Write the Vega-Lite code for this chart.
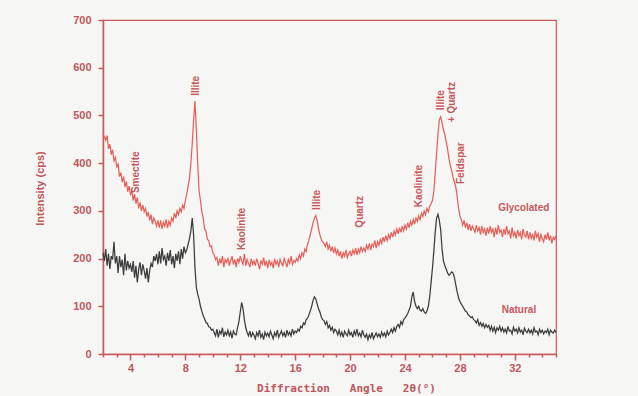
{
  "$schema": "https://vega.github.io/schema/vega-lite/v6.json",
  "width": 453,
  "height": 334,
  "autosize": {"type": "none"},
  "padding": {"left": 103, "top": 20, "right": 82, "bottom": 42},
  "background": "#f6f6f4",
  "view": {"stroke": "#c85a5e", "strokeWidth": 1.2},
  "config": {"font": "Liberation Sans"},
  "resolve": {"axis": {"x": "independent"}},
  "datasets": {
    "xrd": [
      {"a":2.0,"g":462,"n":212},{"a":2.1,"g":455,"n":195},{"a":2.2,"g":448,"n":220},{"a":2.3,"g":458,"n":185},{"a":2.4,"g":430,"n":210},{"a":2.5,"g":440,"n":178},{"a":2.6,"g":418,"n":205},{"a":2.7,"g":428,"n":198},{"a":2.8,"g":405,"n":235},{"a":2.9,"g":412,"n":190},{"a":3.0,"g":392,"n":205},
      {"a":3.1,"g":398,"n":170},{"a":3.2,"g":372,"n":205},{"a":3.3,"g":380,"n":182},{"a":3.4,"g":360,"n":198},{"a":3.5,"g":372,"n":165},{"a":3.6,"g":350,"n":210},{"a":3.7,"g":362,"n":175},{"a":3.8,"g":340,"n":195},{"a":3.9,"g":352,"n":180},{"a":4.0,"g":335,"n":188},
      {"a":4.1,"g":342,"n":172},{"a":4.2,"g":322,"n":195},{"a":4.3,"g":335,"n":160},{"a":4.4,"g":315,"n":185},{"a":4.5,"g":328,"n":150},{"a":4.6,"g":305,"n":178},{"a":4.7,"g":318,"n":192},{"a":4.8,"g":300,"n":165},{"a":4.9,"g":312,"n":188},{"a":5.0,"g":298,"n":175},
      {"a":5.1,"g":305,"n":158},{"a":5.2,"g":288,"n":180},{"a":5.3,"g":298,"n":150},{"a":5.4,"g":280,"n":175},{"a":5.5,"g":292,"n":190},{"a":5.6,"g":272,"n":182},{"a":5.7,"g":285,"n":205},{"a":5.8,"g":278,"n":195},{"a":5.9,"g":268,"n":210},{"a":6.0,"g":280,"n":188},
      {"a":6.1,"g":265,"n":215},{"a":6.2,"g":280,"n":190},{"a":6.3,"g":262,"n":222},{"a":6.4,"g":276,"n":198},{"a":6.5,"g":268,"n":205},{"a":6.6,"g":282,"n":185},{"a":6.7,"g":264,"n":212},{"a":6.8,"g":278,"n":195},{"a":6.9,"g":270,"n":218},{"a":7.0,"g":285,"n":188},
      {"a":7.1,"g":278,"n":205},{"a":7.2,"g":295,"n":180},{"a":7.3,"g":285,"n":210},{"a":7.4,"g":300,"n":195},{"a":7.5,"g":292,"n":215},{"a":7.6,"g":305,"n":188},{"a":7.7,"g":298,"n":220},{"a":7.8,"g":312,"n":200},{"a":7.9,"g":305,"n":225},{"a":8.0,"g":322,"n":212},
      {"a":8.1,"g":335,"n":218},{"a":8.2,"g":352,"n":230},{"a":8.3,"g":368,"n":242},{"a":8.4,"g":400,"n":258},{"a":8.5,"g":440,"n":285},{"a":8.6,"g":490,"n":250},{"a":8.7,"g":530,"n":180},{"a":8.8,"g":470,"n":140},{"a":8.9,"g":400,"n":125},{"a":9.0,"g":340,"n":115},
      {"a":9.1,"g":322,"n":100},{"a":9.2,"g":298,"n":90},{"a":9.3,"g":285,"n":80},{"a":9.4,"g":262,"n":74},{"a":9.5,"g":258,"n":66},{"a":9.6,"g":240,"n":64},{"a":9.7,"g":238,"n":57},{"a":9.8,"g":225,"n":56},{"a":9.9,"g":226,"n":50},{"a":10.0,"g":212,"n":52},
      {"a":10.1,"g":208,"n":45},{"a":10.2,"g":198,"n":38},{"a":10.3,"g":202,"n":52},{"a":10.4,"g":185,"n":35},{"a":10.5,"g":200,"n":48},{"a":10.6,"g":190,"n":42},{"a":10.7,"g":205,"n":55},{"a":10.8,"g":182,"n":36},{"a":10.9,"g":198,"n":46},{"a":11.0,"g":192,"n":40},
      {"a":11.1,"g":200,"n":50},{"a":11.2,"g":185,"n":38},{"a":11.3,"g":196,"n":46},{"a":11.4,"g":205,"n":33},{"a":11.5,"g":188,"n":48},{"a":11.6,"g":198,"n":42},{"a":11.7,"g":182,"n":40},{"a":11.8,"g":200,"n":55},{"a":11.9,"g":192,"n":68},{"a":12.0,"g":205,"n":88},
      {"a":12.1,"g":195,"n":108},{"a":12.2,"g":188,"n":95},{"a":12.3,"g":210,"n":72},{"a":12.4,"g":185,"n":55},{"a":12.5,"g":198,"n":45},{"a":12.6,"g":190,"n":38},{"a":12.7,"g":182,"n":48},{"a":12.8,"g":200,"n":35},{"a":12.9,"g":188,"n":45},{"a":13.0,"g":195,"n":40},
      {"a":13.1,"g":185,"n":32},{"a":13.2,"g":200,"n":45},{"a":13.3,"g":190,"n":38},{"a":13.4,"g":178,"n":50},{"a":13.5,"g":196,"n":35},{"a":13.6,"g":188,"n":42},{"a":13.7,"g":202,"n":30},{"a":13.8,"g":185,"n":46},{"a":13.9,"g":195,"n":38},{"a":14.0,"g":180,"n":44},
      {"a":14.1,"g":198,"n":36},{"a":14.2,"g":186,"n":48},{"a":14.3,"g":192,"n":40},{"a":14.4,"g":180,"n":32},{"a":14.5,"g":200,"n":45},{"a":14.6,"g":188,"n":38},{"a":14.7,"g":195,"n":50},{"a":14.8,"g":182,"n":35},{"a":14.9,"g":198,"n":42},{"a":15.0,"g":190,"n":48},
      {"a":15.1,"g":185,"n":38},{"a":15.2,"g":200,"n":45},{"a":15.3,"g":192,"n":35},{"a":15.4,"g":182,"n":50},{"a":15.5,"g":198,"n":40},{"a":15.6,"g":190,"n":46},{"a":15.7,"g":205,"n":38},{"a":15.8,"g":188,"n":52},{"a":15.9,"g":196,"n":42},{"a":16.0,"g":192,"n":48},
      {"a":16.1,"g":200,"n":45},{"a":16.2,"g":195,"n":52},{"a":16.3,"g":208,"n":48},{"a":16.4,"g":200,"n":58},{"a":16.5,"g":212,"n":55},{"a":16.6,"g":205,"n":65},{"a":16.7,"g":220,"n":62},{"a":16.8,"g":215,"n":72},{"a":16.9,"g":230,"n":75},{"a":17.0,"g":238,"n":82},
      {"a":17.1,"g":250,"n":90},{"a":17.2,"g":262,"n":100},{"a":17.3,"g":275,"n":112},{"a":17.4,"g":285,"n":120},{"a":17.5,"g":290,"n":116},{"a":17.6,"g":280,"n":105},{"a":17.7,"g":262,"n":95},{"a":17.8,"g":250,"n":88},{"a":17.9,"g":240,"n":78},{"a":18.0,"g":235,"n":72},
      {"a":18.1,"g":232,"n":70},{"a":18.2,"g":225,"n":62},{"a":18.3,"g":235,"n":68},{"a":18.4,"g":220,"n":55},{"a":18.5,"g":228,"n":60},{"a":18.6,"g":215,"n":50},{"a":18.7,"g":225,"n":56},{"a":18.8,"g":212,"n":45},{"a":18.9,"g":222,"n":52},{"a":19.0,"g":210,"n":48},
      {"a":19.1,"g":218,"n":40},{"a":19.2,"g":205,"n":50},{"a":19.3,"g":215,"n":38},{"a":19.4,"g":200,"n":46},{"a":19.5,"g":212,"n":35},{"a":19.6,"g":205,"n":48},{"a":19.7,"g":218,"n":42},{"a":19.8,"g":202,"n":38},{"a":19.9,"g":210,"n":50},{"a":20.0,"g":215,"n":40},
      {"a":20.1,"g":205,"n":45},{"a":20.2,"g":218,"n":35},{"a":20.3,"g":210,"n":48},{"a":20.4,"g":222,"n":40},{"a":20.5,"g":208,"n":52},{"a":20.6,"g":220,"n":38},{"a":20.7,"g":212,"n":44},{"a":20.8,"g":225,"n":36},{"a":20.9,"g":215,"n":50},{"a":21.0,"g":222,"n":40},
      {"a":21.1,"g":215,"n":35},{"a":21.2,"g":228,"n":42},{"a":21.3,"g":220,"n":30},{"a":21.4,"g":232,"n":40},{"a":21.5,"g":218,"n":34},{"a":21.6,"g":230,"n":45},{"a":21.7,"g":225,"n":32},{"a":21.8,"g":238,"n":38},{"a":21.9,"g":222,"n":44},{"a":22.0,"g":235,"n":36},
      {"a":22.1,"g":228,"n":42},{"a":22.2,"g":240,"n":35},{"a":22.3,"g":232,"n":46},{"a":22.4,"g":245,"n":38},{"a":22.5,"g":235,"n":44},{"a":22.6,"g":248,"n":36},{"a":22.7,"g":238,"n":48},{"a":22.8,"g":250,"n":40},{"a":22.9,"g":242,"n":45},{"a":23.0,"g":255,"n":52},
      {"a":23.1,"g":245,"n":45},{"a":23.2,"g":258,"n":55},{"a":23.3,"g":250,"n":48},{"a":23.4,"g":262,"n":58},{"a":23.5,"g":252,"n":62},{"a":23.6,"g":265,"n":56},{"a":23.7,"g":255,"n":68},{"a":23.8,"g":268,"n":62},{"a":23.9,"g":258,"n":72},{"a":24.0,"g":270,"n":75},
      {"a":24.1,"g":262,"n":80},{"a":24.2,"g":275,"n":85},{"a":24.3,"g":265,"n":92},{"a":24.4,"g":278,"n":100},{"a":24.5,"g":270,"n":120},{"a":24.6,"g":282,"n":130},{"a":24.7,"g":272,"n":110},{"a":24.8,"g":285,"n":100},{"a":24.9,"g":278,"n":95},{"a":25.0,"g":290,"n":100},
      {"a":25.1,"g":282,"n":92},{"a":25.2,"g":295,"n":90},{"a":25.3,"g":288,"n":95},{"a":25.4,"g":300,"n":88},{"a":25.5,"g":292,"n":85},{"a":25.6,"g":305,"n":90},{"a":25.7,"g":298,"n":100},{"a":25.8,"g":310,"n":120},{"a":25.9,"g":315,"n":150},{"a":26.0,"g":322,"n":180},
      {"a":26.1,"g":340,"n":215},{"a":26.2,"g":380,"n":255},{"a":26.3,"g":420,"n":285},{"a":26.4,"g":460,"n":293},{"a":26.5,"g":490,"n":280},{"a":26.6,"g":497,"n":260},{"a":26.7,"g":485,"n":220},{"a":26.8,"g":470,"n":195},{"a":26.9,"g":460,"n":185},{"a":27.0,"g":445,"n":178},
      {"a":27.1,"g":430,"n":170},{"a":27.2,"g":410,"n":165},{"a":27.3,"g":395,"n":168},{"a":27.4,"g":385,"n":172},{"a":27.5,"g":370,"n":170},{"a":27.6,"g":360,"n":160},{"a":27.7,"g":350,"n":145},{"a":27.8,"g":330,"n":130},{"a":27.9,"g":305,"n":118},{"a":28.0,"g":290,"n":110},
      {"a":28.1,"g":282,"n":105},{"a":28.2,"g":270,"n":100},{"a":28.3,"g":280,"n":95},{"a":28.4,"g":265,"n":90},{"a":28.5,"g":275,"n":88},{"a":28.6,"g":260,"n":82},{"a":28.7,"g":272,"n":80},{"a":28.8,"g":258,"n":76},{"a":28.9,"g":268,"n":78},{"a":29.0,"g":262,"n":72},
      {"a":29.1,"g":255,"n":70},{"a":29.2,"g":270,"n":65},{"a":29.3,"g":258,"n":72},{"a":29.4,"g":265,"n":60},{"a":29.5,"g":250,"n":66},{"a":29.6,"g":268,"n":58},{"a":29.7,"g":255,"n":64},{"a":29.8,"g":262,"n":55},{"a":29.9,"g":248,"n":62},{"a":30.0,"g":265,"n":56},
      {"a":30.1,"g":252,"n":60},{"a":30.2,"g":268,"n":50},{"a":30.3,"g":255,"n":58},{"a":30.4,"g":262,"n":48},{"a":30.5,"g":245,"n":56},{"a":30.6,"g":265,"n":45},{"a":30.7,"g":250,"n":55},{"a":30.8,"g":270,"n":50},{"a":30.9,"g":255,"n":58},{"a":31.0,"g":260,"n":48},
      {"a":31.1,"g":245,"n":55},{"a":31.2,"g":262,"n":46},{"a":31.3,"g":250,"n":52},{"a":31.4,"g":268,"n":44},{"a":31.5,"g":252,"n":58},{"a":31.6,"g":258,"n":48},{"a":31.7,"g":242,"n":50},{"a":31.8,"g":265,"n":42},{"a":31.9,"g":248,"n":56},{"a":32.0,"g":255,"n":48},
      {"a":32.1,"g":242,"n":52},{"a":32.2,"g":260,"n":44},{"a":32.3,"g":248,"n":55},{"a":32.4,"g":255,"n":46},{"a":32.5,"g":240,"n":50},{"a":32.6,"g":262,"n":40},{"a":32.7,"g":250,"n":54},{"a":32.8,"g":245,"n":48},{"a":32.9,"g":258,"n":45},{"a":33.0,"g":240,"n":52},
      {"a":33.1,"g":255,"n":44},{"a":33.2,"g":242,"n":50},{"a":33.3,"g":250,"n":42},{"a":33.4,"g":238,"n":55},{"a":33.5,"g":258,"n":46},{"a":33.6,"g":245,"n":48},{"a":33.7,"g":252,"n":40},{"a":33.8,"g":235,"n":52},{"a":33.9,"g":250,"n":45},{"a":34.0,"g":242,"n":50},
      {"a":34.1,"g":235,"n":42},{"a":34.2,"g":250,"n":48},{"a":34.3,"g":240,"n":45},{"a":34.4,"g":255,"n":52},{"a":34.5,"g":238,"n":40},{"a":34.6,"g":248,"n":50},{"a":34.7,"g":232,"n":46},{"a":34.8,"g":245,"n":44},{"a":34.9,"g":240,"n":50},{"a":35.0,"g":248,"n":45}
    ],
    "minerals": [
      {"a":4.37,"y":381,"t":"Smectite"},
      {"a":8.75,"y":562,"t":"Illite"},
      {"a":12.1,"y":262,"t":"Kaolinite"},
      {"a":17.6,"y":323,"t":"Illite"},
      {"a":20.7,"y":298,"t":"Quartz"},
      {"a":25.05,"y":352,"t":"Kaolinite"},
      {"a":26.65,"y":532,"t":"Illite"},
      {"a":27.4,"y":528,"t":"+ Quartz"},
      {"a":28.1,"y":400,"t":"Feldspar"}
    ],
    "series": [
      {"a":32.65,"y":306,"t":"Glycolated"},
      {"a":32.3,"y":92,"t":"Natural"}
    ]
  },
  "layer": [
    {
      "data": {"name": "xrd"},
      "mark": {"type": "line", "color": "#e8605a", "strokeWidth": 1.25},
      "encoding": {
        "x": {
          "field": "a", "type": "quantitative",
          "scale": {"domain": [2, 35], "nice": false, "zero": false},
          "axis": {
            "orient": "bottom",
            "values": [4, 8, 12, 16, 20, 24, 28, 32],
            "labelOverlap": false,
            "labelFlush": false,
            "tickSize": 6,
            "tickWidth": 1.5,
            "tickColor": "#c85a5e",
            "domainColor": "#c85a5e",
            "domainWidth": 1.5,
            "grid": false,
            "labelColor": "#c0575b",
            "labelFont": "Liberation Sans",
            "labelFontWeight": "bold",
            "labelFontSize": 11,
            "labelPadding": 2,
            "title": "Diffraction\u00a0\u00a0\u00a0Angle\u00a0\u00a0\u00a02θ(°)",
            "titleFont": "DejaVu Sans Mono",
            "titleFontWeight": "bold",
            "titleFontSize": 11,
            "titleColor": "#c0575b",
            "titleX": 243,
            "titleY": 34,
            "titleAlign": "center",
            "titleBaseline": "middle"
          }
        },
        "y": {
          "field": "g", "type": "quantitative",
          "scale": {"domain": [0, 700], "nice": false},
          "axis": {
            "values": [0,50,100,150,200,250,300,350,400,450,500,550,600,650,700],
            "labelExpr": "datum.value % 100 === 0 ? datum.label : ''",
            "labelOverlap": false,
            "tickSize": {"condition": {"test": "datum.value % 100 === 0", "value": 5}, "value": 3},
            "tickWidth": 1.5,
            "tickColor": "#c85a5e",
            "domainColor": "#c85a5e",
            "domainWidth": 1.5,
            "grid": false,
            "labelColor": "#c0575b",
            "labelFont": "Liberation Sans",
            "labelFontWeight": "bold",
            "labelFontSize": 11,
            "labelPadding": 7,
            "title": "Intensity (cps)",
            "titleFont": "Liberation Sans",
            "titleFontWeight": "bold",
            "titleFontSize": 11,
            "titleColor": "#c0575b",
            "titleAngle": 270,
            "titleX": -63,
            "titleY": 168,
            "titleAlign": "center",
            "titleBaseline": "middle"
          }
        }
      }
    },
    {
      "data": {"name": "xrd"},
      "mark": {"type": "line", "color": "#3c3c3c", "strokeWidth": 1.25},
      "encoding": {
        "x": {
          "field": "a", "type": "quantitative",
          "axis": {
            "orient": "bottom",
            "values": [2,3,5,6,7,9,10,11,13,14,15,17,18,19,21,22,23,25,26,27,29,30,31,33,34,35],
            "labels": false,
            "domain": false,
            "grid": false,
            "tickSize": 3,
            "tickWidth": 1.5,
            "tickColor": "#c85a5e",
            "title": null
          }
        },
        "y": {"field": "n", "type": "quantitative"}
      }
    },
    {
      "data": {"name": "minerals"},
      "mark": {"type": "text", "angle": 270, "align": "center", "baseline": "middle", "color": "#c8585c", "font": "Liberation Sans", "fontWeight": "bold", "fontSize": 10},
      "encoding": {
        "x": {"field": "a", "type": "quantitative", "axis": null},
        "y": {"field": "y", "type": "quantitative"},
        "text": {"field": "t", "type": "nominal"}
      }
    },
    {
      "data": {"name": "series"},
      "mark": {"type": "text", "align": "center", "baseline": "middle", "color": "#c8585c", "font": "Liberation Sans", "fontWeight": "bold", "fontSize": 10},
      "encoding": {
        "x": {"field": "a", "type": "quantitative", "axis": null},
        "y": {"field": "y", "type": "quantitative"},
        "text": {"field": "t", "type": "nominal"}
      }
    }
  ]
}
